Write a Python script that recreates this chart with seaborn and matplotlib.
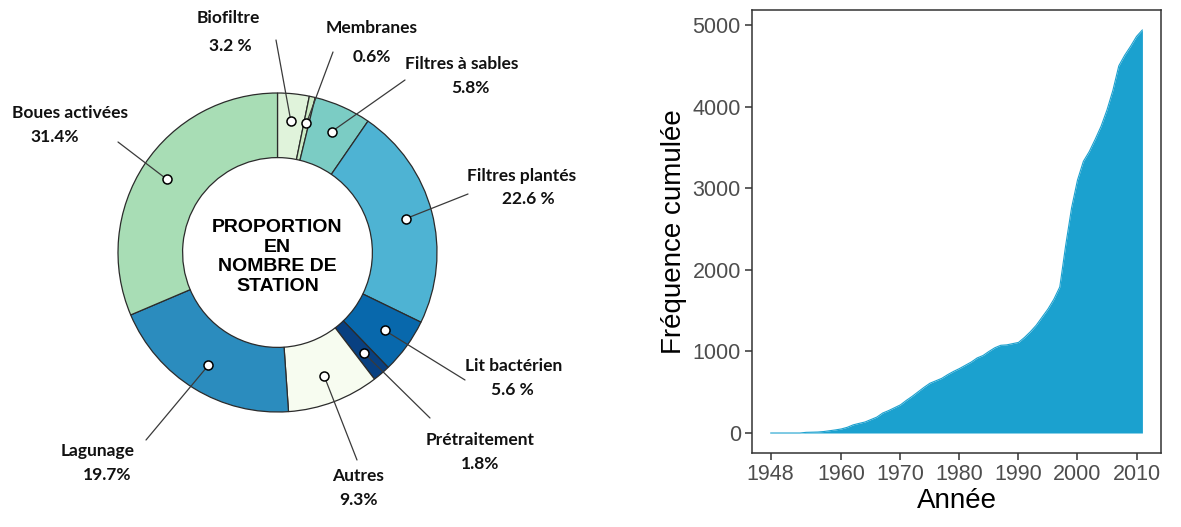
import numpy as np
import matplotlib.pyplot as plt
import seaborn as sns

sns.set_style('white')
plt.rcParams['font.family'] = ['Liberation Sans', 'DejaVu Sans']
plt.rcParams['text.color'] = 'black'

# donut: treatment types, clockwise from 12 o'clock
types = ['Biofiltre', 'Membranes', 'Filtres à sables', 'Filtres plantés', 'Lit bactérien',
         'Prétraitement', 'Autres', 'Lagunage', 'Boues activées']
shares = [3.2, 0.6, 5.8, 22.6, 5.6, 1.8, 9.3, 19.7, 31.4]
share_labels = ['3.2 %', '0.6%', '5.8%', '22.6 %', '5.6 %', '1.8%', '9.3%', '19.7%', '31.4%']

# cumulative number of stations per year
years = list(range(1948, 2012))
cumul = [0, 0, 0, 0, 0, 0, 8, 10, 12, 18, 28, 38,
         50, 70, 100, 118, 135, 165, 195, 245, 275, 310,
         345, 400, 450, 505, 560, 610, 640, 670, 715, 755,
         790, 830, 870, 920, 950, 1000, 1045, 1075, 1080, 1095,
         1110, 1170, 1240, 1320, 1420, 1520, 1640, 1790, 2300, 2760,
         3100, 3330, 3450, 3600, 3760, 3960, 4200, 4500, 4630, 4740,
         4860, 4940]
year_ticks = [1948, 1960, 1970, 1980, 1990, 2000, 2010]

colors = ['#e0f3db', '#ccebc5', '#7bccc4', '#4eb3d3', '#0868ac',
          '#084081', '#f7fcf0', '#2b8cbe', '#a8ddb5']

W, H = 1181, 527
fig = plt.figure(figsize=(W / 100, H / 100), dpi=100)

# ---- left: donut, axes in pixel-scaled units (1 unit = outer radius)
CX, CY, R = 277.5, 252.5, 159.5
def P(px, py):
    return (px - CX) / R, (CY - py) / R

ax = fig.add_axes([0, 0, 620 / W, 1])
ax.pie(shares, colors=colors, startangle=90, counterclock=False, radius=1,
       wedgeprops=dict(width=0.405, edgecolor='#2b2b2b', linewidth=0.9))
ax.set_xlim(-CX / R, (620 - CX) / R)
ax.set_ylim((CY - H) / R, CY / R)
ax.set_aspect('equal')
ax.axis('off')

ax.text(0, P(0, 257)[1], 'PROPORTION\nEN\nNOMBRE DE\nSTATION', ha='center', va='center',
        fontsize=14, fontweight='bold', color='black', linespacing=1.22)

cum = np.cumsum(shares)
mid = cum - np.array(shares) / 2
theta = np.deg2rad(90 - mid * 3.6)
dot_r = 0.83
dx, dy = dot_r * np.cos(theta), dot_r * np.sin(theta)

line_ends = [(276, 40), (333, 52), (405, 80), (468, 194), (465, 380),
             (430, 418), (357, 460), (146, 440), (118, 142)]
name_pos = [(228, 18), (372, 28), (462, 64), (522, 176), (514, 366),
            (480, 440), (358, 476), (98, 451), (70, 113)]
pct_pos = [(230, 46), (372, 57), (470, 88), (528, 199), (512, 390),
           (480, 464), (358, 500), (107, 475), (55, 137)]

lab_font = dict(family=['Lato', 'DejaVu Sans'], fontsize=12.5, fontweight='bold',
                ha='center', va='center', color='#111111')
for i in range(len(types)):
    ex, ey = P(*line_ends[i])
    ax.plot([dx[i], ex], [dy[i], ey], color='#3a3a3a', lw=0.9, zorder=3)
    ax.plot(dx[i], dy[i], 'o', ms=6.5, mfc='white', mec='black', mew=1.1, zorder=4)
    ax.text(*P(*name_pos[i]), types[i], **lab_font)
    ax.text(*P(*pct_pos[i]), share_labels[i], **lab_font)

# ---- right: cumulative frequency
ax2 = fig.add_axes([752 / W, 1 - 453 / H, 409 / W, 443 / H])
fill = '#1ba1cf'
ax2.fill_between(years, cumul, 0, color=fill, lw=0)
sns.lineplot(x=years, y=cumul, ax=ax2, color=fill, lw=0.8)
ax2.set_xlim(1944.85, 2014.15)
ax2.set_ylim(-245, 5184)
ax2.set_xticks(year_ticks)
ax2.set_yticks([0, 1000, 2000, 3000, 4000, 5000])
ax2.tick_params(axis='both', bottom=True, left=True, direction='out', length=5, width=1.1,
                color='#333333', labelcolor='#4d4d4d', labelsize=15.5, pad=3)
for s in ax2.spines.values():
    s.set_visible(True)
    s.set_color('#333333')
    s.set_linewidth(1.1)
ax2.set_xlabel('Année', fontsize=20, labelpad=2, color='black')
ax2.set_ylabel('Fréquence cumulée', fontsize=20, labelpad=4, color='black')
ax2.grid(False)

fig.savefig('out.png', dpi=100)
